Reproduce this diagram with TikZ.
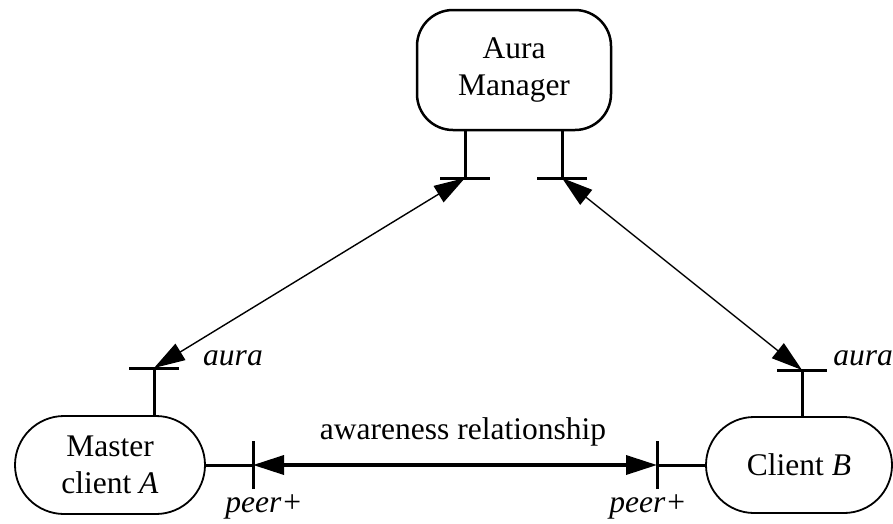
\documentclass[tikz,border=0pt]{standalone}
\usepackage{fontspec}
\setmainfont{Liberation Serif}
\usetikzlibrary{arrows.meta}

\tikzset{
  txt/.style={font=\fontsize{31.5}{37}\selectfont, align=center, inner sep=0pt},
  box/.style={txt, draw, line width=#1},
  stem/.style={line width=3pt},
  link/.style={{Triangle[length=31pt,width=19pt]}-{Triangle[length=31pt,width=19pt]}}
}

\begin{document}
\begin{tikzpicture}[x=1pt, y=-1pt]
    \useasboundingbox (0,0) rectangle (893,523);

    % Composants
    \node[box=2.5pt, minimum width=194pt, minimum height=120pt, rounded corners=36pt] (mgr) at (514,70) {Aura\\Manager};
    \node[box=1.8pt, minimum width=190pt, minimum height=98pt, rounded corners=49pt] (ma) at (110,465) {Master\\client \textit{A}};
    \node[box=1.8pt, minimum width=186pt, minimum height=96pt, rounded corners=48pt] (cb) at (799,465) {Client \textit{B}};

    % Ports
    \coordinate (mgrL) at (465,178);
    \coordinate (mgrR) at (562,178);
    \coordinate (maT) at (154,368);
    \coordinate (cbT) at (802,370);
    \coordinate (maP) at (253,465);
    \coordinate (cbP) at (657,465);

    \draw[stem] (mgrL |- mgr.south) -- (mgrL);
    \draw[stem] ([xshift=-25pt]mgrL) -- ([xshift=25pt]mgrL);
    \draw[stem] (mgrR |- mgr.south) -- (mgrR);
    \draw[stem] ([xshift=-25pt]mgrR) -- ([xshift=25pt]mgrR);
    \draw[stem] (maT |- ma.north) -- (maT);
    \draw[stem] ([xshift=-25pt]maT) -- ([xshift=25pt]maT);
    \draw[stem] (cbT |- cb.north) -- (cbT);
    \draw[stem] ([xshift=-25pt]cbT) -- ([xshift=25pt]cbT);
    \draw[stem] (ma.east) -- (maP);
    \draw[stem] ([yshift=-24pt]maP) -- ([yshift=24pt]maP);
    \draw[stem] (cb.west) -- (cbP);
    \draw[stem] ([yshift=-24pt]cbP) -- ([yshift=24pt]cbP);

    % Liens
    \draw[link, line width=1.4pt] (mgrL) -- (maT);
    \draw[link, line width=1.4pt] (mgrR) -- (cbT);
    \draw[link, line width=3.5pt] (maP) -- (cbP);

    % Etiquettes
    \node[txt] (auraA) at (233,358) {\textit{aura}};
    \node[txt] (auraB) at (863,358) {\textit{aura}};
    \node[txt] (peerA) at (264,507) {\textit{peer+}};
    \node[txt] (peerB) at (648,507) {\textit{peer+}};
    \node[txt] (aware) at (463,432) {awareness relationship};
\end{tikzpicture}
\end{document}
